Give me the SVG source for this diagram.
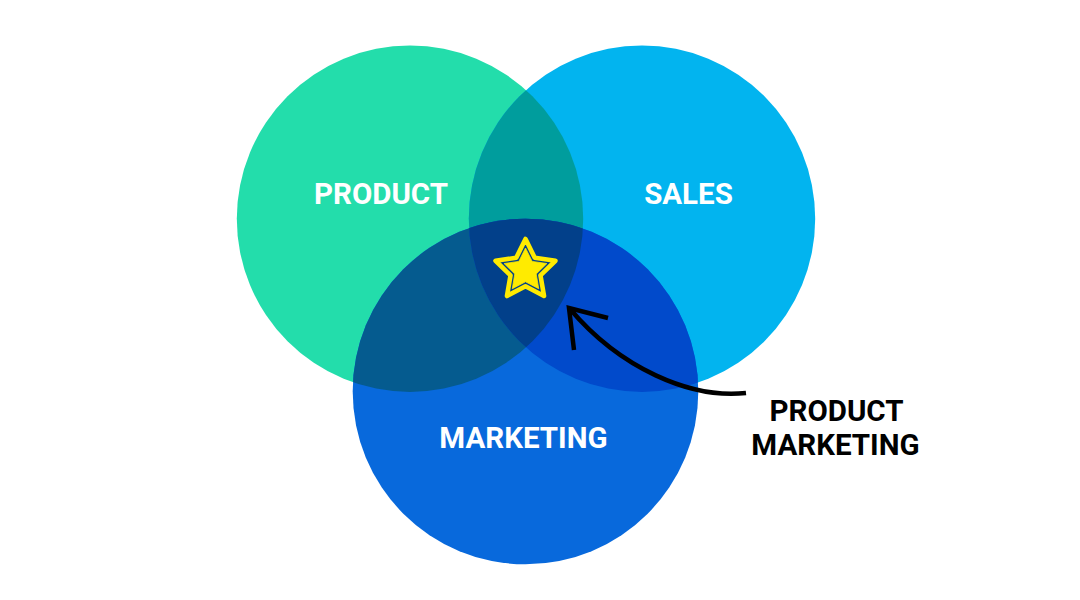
<svg xmlns="http://www.w3.org/2000/svg" width="1080" height="600" viewBox="0 0 1080 600">
<style>
.lbl{font-family:Roboto,"Liberation Sans",Arial,sans-serif;font-weight:700;font-size:29.5px;text-anchor:middle}
.w{fill:#ffffff}
.k{fill:#000000}
.arrow{fill:none;stroke:#000000;stroke-width:4.5}
</style>
<defs>
<clipPath id="clipP"><circle cx="410" cy="218.7" r="173.2"/></clipPath>
<clipPath id="clipS"><circle cx="642" cy="218.7" r="173.2"/></clipPath>
<clipPath id="clipM"><circle cx="525.5" cy="391.5" r="172.8"/></clipPath>
</defs>
<rect width="1080" height="600" fill="#ffffff"/>
<g id="node-product">
<circle cx="410" cy="218.7" r="173.2" fill="#23DDAB"/>
</g>
<g id="node-sales">
<circle cx="642" cy="218.7" r="173.2" fill="#02B4EF"/>
</g>
<g id="node-marketing">
<circle cx="525.5" cy="391.5" r="172.8" fill="#0869DC"/>
</g>
<g id="overlaps">
<circle cx="642" cy="218.7" r="173.2" fill="#009D9D" clip-path="url(#clipP)"/>
<circle cx="525.5" cy="391.5" r="172.8" fill="#055B8F" clip-path="url(#clipP)"/>
<circle cx="525.5" cy="391.5" r="172.8" fill="#014ACB" clip-path="url(#clipS)"/>
<g clip-path="url(#clipP)">
<circle cx="525.5" cy="391.5" r="172.8" fill="#02408A" clip-path="url(#clipS)"/>
</g>
</g>
<g id="star">
<path d="M525.5 239 L534.76 257.76 L555.46 260.77 L540.48 275.37 L544.02 295.98 L525.5 286.25 L506.98 295.98 L510.52 275.37 L495.54 260.77 L516.24 257.76 Z" fill="none" stroke="#FFEB00" stroke-width="4.6" stroke-linejoin="round"/>
<path d="M525.5 248 L532.12 261.4 L546.90 263.55 L536.2 273.98 L538.73 288.71 L525.5 281.75 L512.27 288.71 L514.8 273.98 L504.10 263.55 L518.88 261.4 Z" fill="#FFEB00" stroke="#FFEB00" stroke-width="0.8" stroke-linejoin="round"/>
</g>
<g id="labels">
<text class="lbl w" x="381" y="204">PRODUCT</text>
<text class="lbl w" x="688.5" y="204">SALES</text>
<text class="lbl w" x="523.5" y="448">MARKETING</text>
</g>
<g id="connectors">
<path class="arrow" d="M746 393 C690 399 620 368 570 309"/>
<path class="arrow" d="M608 318 L569 308 L574 350" stroke-linejoin="miter"/>
</g>
<g id="callout">
<text class="lbl k" x="836.5" y="421">PRODUCT</text>
<text class="lbl k" x="835.5" y="455">MARKETING</text>
</g>
</svg>
